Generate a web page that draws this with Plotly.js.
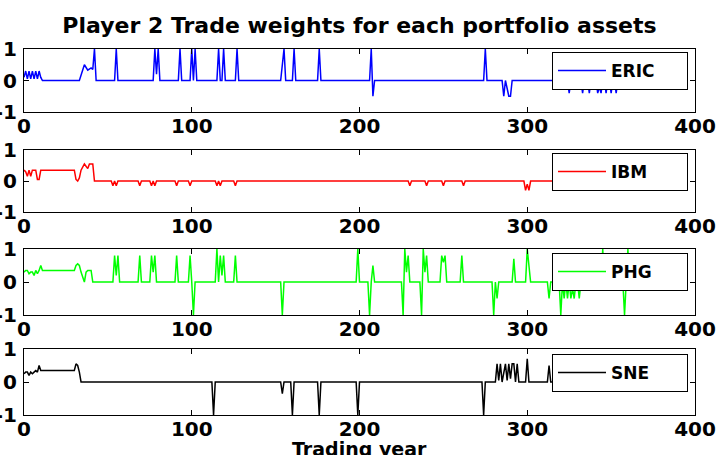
<!DOCTYPE html>
<html>
<head>
<meta charset="utf-8">
<script src="https://cdn.plot.ly/plotly-3.0.1.min.js"></script>
<style>html,body{margin:0;padding:0;background:#fff;}#chart{width:727px;height:455px;}</style>
</head>
<body>
<div id="chart"></div>
<script>
// ---- data (trading day, weight) ----
const assetNames = ["ERIC", "IBM", "PHG", "SNE"];
const xTickVals = [0, 100, 200, 300, 400];
const yTickVals = [-1, 0, 1];

const ericDays = [0,1,2,3,4,5,6,7,8,9,10,11,33,36,38,40,41,42,43,54,55,56,77,78,79,80,81,92,93,94,99,100,101,102,103,115,116,117,118,119,120,126,127,128,153,154,155,156,160,161,162,175,176,177,206,207,208,209,274,275,276,285,286,287,289,290,291,324,325,326,332,333,334,336,337,338,339,340,341,342,343,344,345,346,347,348,349,350,351,352,353,354,363,364,365];
const ericW    = [0.1,0.3,0.05,0.3,0.05,0.3,0.05,0.3,0.05,0.3,0.1,0,0,0.5,0.33,0.4,0.35,1,0,0,1,0,0,1,0.2,1,0,0,1,0,0,1,0,1,0,0,1,0,0,1,0,0,1,0,0,0.6,1,0,0,1,0,0,1,0,0,1,-0.5,0,0,1,0,0,-0.5,0,-0.5,-0.5,0,0,-0.4,0,0,-0.4,0,0,-0.4,0,-0.3,0,0,-0.4,-0.2,-0.4,0,0,-0.4,0,0,-0.4,0,0,-0.4,0,0,-0.3,0];

const ibmDays = [0,1,2,3,4,5,6,7,8,9,10,30,31,32,33,34,36,38,39,41,42,52,53,54,55,56,68,69,70,75,76,77,78,79,90,91,92,98,99,100,114,115,116,117,118,125,126,127,229,230,231,239,240,241,249,250,251,261,262,263,298,299,300,301,302,365];
const ibmW    = [0.35,0.3,0.15,0.35,0.15,0.35,0.35,0.35,0.05,0.05,0.35,0.35,0.05,0,0.1,0.35,0.55,0.4,0.55,0.55,0,0,-0.15,0,-0.15,0,0,-0.15,0,0,-0.15,0,-0.15,0,0,-0.15,0,0,-0.15,0,0,-0.15,0,-0.15,0,0,-0.15,0,0,-0.15,0,0,-0.15,0,0,-0.15,0,0,-0.15,0,0,-0.3,-0.1,-0.3,0,0];

const phgDays = [0,1,2,3,4,5,6,7,8,9,10,11,30,31,32,33,34,35,36,37,38,40,41,53,54,55,56,57,68,69,70,75,76,77,78,79,90,91,92,98,99,100,101,102,114,115,116,117,118,119,120,125,126,127,153,154,155,198,199,200,205,206,207,208,209,225,226,227,228,229,230,236,237,238,239,240,241,248,249,250,251,252,260,261,262,279,280,281,282,283,291,292,293,299,300,301,302,312,313,314,319,320,321,322,323,324,325,326,327,328,329,330,331,332,344,345,346,357,358,359,360,361,365];
const phgW    = [0.3,0.35,0.35,0.25,0.3,0.3,0.2,0.35,0.25,0.35,0.5,0.35,0.35,0.5,0.55,0.5,0.3,0.15,0,0.3,0.35,0.35,0,0,0.8,0.2,0.8,0,0,0.8,0,0,0.8,0.3,0.8,0,0,0.8,0,0,0.8,0,-1,0,0,1,0,0.8,0.2,0.8,0,0,0.8,0,0,-1,0,0,1,0,0,-1,0,0.5,0,0,-1,1,0.3,0.8,0,0,-1,1,0.3,0.8,0,0,0.8,0.6,0.8,0,0,0.8,0,0,-1,0,-0.5,0,0,0.7,0,0,1,0.5,0,0,-0.5,0,0,-1,0,-0.5,0,-0.5,0,-0.5,-0.2,-0.5,0,0,-0.5,0,0,1,0,0,-1,0,1,0,0];

const sneDays = [0,1,2,3,4,5,6,7,8,9,10,30,31,32,33,34,112,113,114,153,154,155,159,160,161,175,176,177,198,199,200,273,274,275,281,282,283,284,285,287,288,289,290,291,292,293,294,295,299,300,301,312,313,314,344,345,346,365];
const sneW    = [0.25,0.3,0.3,0.2,0.3,0.25,0.3,0.35,0.3,0.5,0.35,0.35,0.55,0.5,0.3,0,0,-1,0,0,-0.35,0,0,-1,0,0,-1,0,0,-1,0,0,-1,0,0,0.55,0.05,0.55,0,0.55,0.05,0.55,0.1,0.55,0.55,0,0.55,0,0,0.7,0,0,0.5,0,0,-0.3,0,0];

const seriesDays = [ericDays, ibmDays, phgDays, sneDays];
const seriesW = [ericW, ibmW, phgW, sneW];
const seriesColors = ["#0000ff", "#ff0000", "#00ff00", "#000000"];

// ---- layout helpers ----
const W = 727, H = 455;
const ML = 24, MR = 32;
const boxes = [[49,112],[150,212],[249,315],[349,415]]; // pixel top/bottom of each axes
const legendTops = [52,153,253,354];
const FONT = "DejaVu Sans, Arial, sans-serif";

const traces = [];
const layout = {
  width: W, height: H,
  margin: {l: ML, r: MR, t: 0, b: 0, pad: 0},
  paper_bgcolor: "#fff", plot_bgcolor: "#fff",
  font: {family: FONT, size: 18, color: "#000", weight: "bold"},
  title: {text: "Player 2 Trade weights for each portfolio assets",
          font: {family: FONT, size: 22, color: "#000", weight: "bold"},
          x: 0.5, xref: "paper", xanchor: "center", y: 1 - 25/H, yref: "container", yanchor: "middle"},
  showlegend: true,
  annotations: [{
    text: "Trading year", xref: "paper", yref: "paper",
    x: 0.5, y: 1 - 449/H, xanchor: "center", yanchor: "middle",
    showarrow: false, font: {family: FONT, size: 19, color: "#000", weight: "bold"}
  }]
};

for (let i = 0; i < 4; i++) {
  const s = i === 0 ? "" : String(i + 1);
  const lg = i === 0 ? "legend" : "legend" + (i + 1);
  traces.push({
    type: "scatter", mode: "lines",
    x: seriesDays[i], y: seriesW[i],
    name: assetNames[i],
    xaxis: "x" + s, yaxis: "y" + s,
    legend: lg,
    line: {color: seriesColors[i], width: 1.5},
    hoverinfo: "skip"
  });
  const [top, bot] = boxes[i];
  layout["xaxis" + s] = {
    domain: [0, 1], anchor: "y" + s, range: [0, 400],
    tickmode: "array", tickvals: xTickVals, ticktext: xTickVals.map(String),
    ticks: "inside", ticklen: 5, tickwidth: 1, tickcolor: "#000",
    showline: true, linecolor: "#000", linewidth: 1, mirror: "allticks",
    showgrid: false, zeroline: false, fixedrange: true,
    tickfont: {family: FONT, size: 20, color: "#000", weight: "bold"},
    ticklabelstandoff: -4
  };
  layout["yaxis" + s] = {
    domain: [1 - bot / H, 1 - top / H], anchor: "x" + s, range: [-1, 1],
    tickmode: "array", tickvals: yTickVals, ticktext: yTickVals.map(String),
    ticks: "inside", ticklen: 5, tickwidth: 1, tickcolor: "#000",
    showline: true, linecolor: "#000", linewidth: 1, mirror: "allticks",
    showgrid: false, zeroline: false, fixedrange: true,
    tickfont: {family: FONT, size: 20, color: "#000", weight: "bold"},
    ticklabelstandoff: 2
  };
  layout[lg] = {
    orientation: "h",
    x: (688 - ML) / (W - ML - MR), xanchor: "right", xref: "paper",
    y: 1 - legendTops[i] / H, yanchor: "top", yref: "paper",
    bgcolor: "#fff", bordercolor: "#000", borderwidth: 1,
    font: {family: FONT, size: 17, color: "#000", weight: "bold"},
    itemwidth: 48, entrywidth: 71, entrywidthmode: "pixels", tracegroupgap: 0
  };
}

Plotly.newPlot("chart", traces, layout, {displayModeBar: false, staticPlot: true});
</script>
</body>
</html>
